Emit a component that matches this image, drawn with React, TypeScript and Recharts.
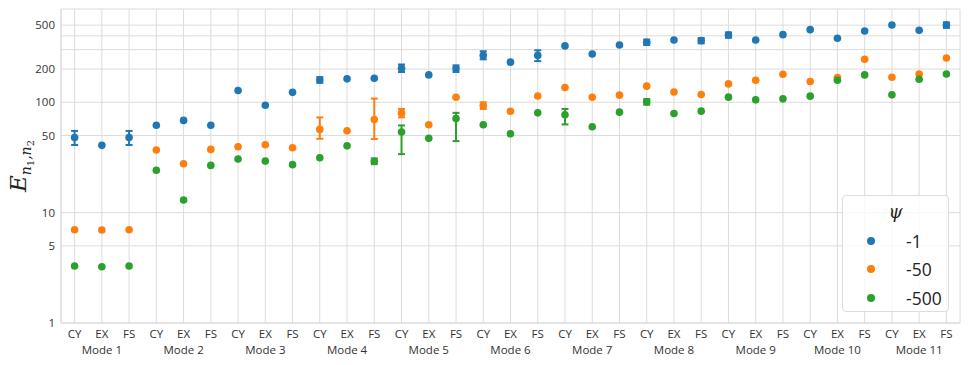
import React from "react";
import { ComposedChart, Scatter, ErrorBar, XAxis, YAxis, CartesianGrid, Legend } from "recharts";

const modes = ["Mode 1", "Mode 2", "Mode 3", "Mode 4", "Mode 5", "Mode 6", "Mode 7", "Mode 8", "Mode 9", "Mode 10", "Mode 11"];
const methods = ["CY", "EX", "FS"];
const psiNames = ["-1", "-50", "-500"];
const colors = ["#1f77b4", "#ff7f0e", "#2ca02c"];

// values per mode: CY, EX, FS
const psi1 = [
  48, 40.7, 48, 62, 68.5, 62, 128, 94, 123, 159, 163, 165, 203, 177, 202, 266, 231, 266,
  324, 274, 330, 350, 367, 362, 407, 367, 410, 455, 380, 442, 501, 449, 501,
];
const psi1Low = [
  41, null, 41, null, null, null, null, null, null, 150, null, null, 188, null, 188, 245, null, 236,
  null, null, null, 330, null, 342, 384, null, null, null, null, null, null, null, 472,
];
const psi1High = [
  55, null, 55, null, null, null, null, null, null, 169, null, null, 220, null, 216, 290, null, 296,
  null, null, null, 370, null, 382, 430, null, null, null, null, null, null, null, 530,
];

const psi50 = [
  7.0, 6.95, 7.0, 36.9, 27.7, 37.4, 39.5, 41.2, 38.7, 56.8, 55.1, 69.9, 79.7, 62.5, 111, 93.5, 83, 114,
  136, 111, 116, 140, 124, 117.6, 146.7, 158.5, 179.5, 154, 167.6, 245, 168.7, 180.6, 252,
];
const psi50Low = [
  null, null, null, null, null, null, null, null, null, 46.7, null, 46.4, 73, null, null, 87, null, null,
  null, null, null, null, null, null, null, null, null, null, null, null, null, null, null,
];
const psi50High = [
  null, null, null, null, null, null, null, null, null, 72.9, null, 108, 87, null, null, 100, null, null,
  null, null, null, null, null, null, null, null, null, null, null, null, null, null, null,
];

const psi500 = [
  3.28, 3.23, 3.28, 24.2, 13.0, 26.8, 30.6, 29.3, 27.2, 31.4, 40.3, 29.2, 53.7, 47.1, 71.3, 62.5, 51.8, 80.2,
  76.9, 60, 81.4, 100.9, 79.2, 83.1, 111.3, 105.2, 107.4, 113.6, 158.5, 177, 116.7, 161.8, 180.6,
];
const psi500Low = [
  null, null, null, null, null, null, null, null, null, null, null, 27.5, 33.9, null, 44.5, null, null, null,
  63, null, null, 95, null, null, null, null, null, null, null, null, null, null, null,
];
const psi500High = [
  null, null, null, null, null, null, null, null, null, null, null, 31, 61.7, null, 80.2, null, null, null,
  87, null, null, 107, null, null, null, null, null, null, null, null, null, null, null,
];

const yTicks = [1, 5, 10, 50, 100, 200, 300, 400, 500];
const yLabelled = [1, 5, 10, 50, 100, 200, 500];

function err(v: number, lo: number | null, hi: number | null) {
  if (lo == null || hi == null) return null;
  return [v - lo, hi - v];
}

const rows = modes.flatMap((m, i) =>
  methods.map((c, j) => {
    const k = i * 3 + j;
    return {
      key: `${m}|${c}`,
      s1: psi1[k],
      e1: err(psi1[k], psi1Low[k], psi1High[k]),
      s50: psi50[k],
      e50: err(psi50[k], psi50Low[k], psi50High[k]),
      s500: psi500[k],
      e500: err(psi500[k], psi500Low[k], psi500High[k]),
    };
  })
);

const TEXT = "#333333";
const GRID = "#dcdcdc";
const FONT = "'Open Sans', sans-serif";

function XTick(props: any) {
  const { x, y, payload } = props;
  const [mode, method] = String(payload.value).split("|");
  return (
    <g transform={`translate(${x},${y})`}>
      <text x={0} y={15} textAnchor="middle" fill={TEXT} fontSize={11.5} fontFamily={FONT}>
        {method}
      </text>
      {method === "EX" && (
        <text x={0} y={31} textAnchor="middle" fill={TEXT} fontSize={11.5} fontFamily={FONT}>
          {mode}
        </text>
      )}
    </g>
  );
}

function YLabel(props: any) {
  const vb = props.viewBox || { y: 9, height: 314 };
  const cy = vb.y + vb.height / 2;
  return (
    <text
      transform={`translate(26,${cy}) rotate(-90)`}
      textAnchor="middle"
      fill="#222"
      fontFamily="'DejaVu Serif', serif"
      fontStyle="italic"
    >
      <tspan fontSize={23}>E</tspan>
      <tspan fontSize={14} dy={5}>n</tspan>
      <tspan fontSize={10} dy={3} fontStyle="normal">1</tspan>
      <tspan fontSize={14} dy={-3}>,n</tspan>
      <tspan fontSize={10} dy={3} fontStyle="normal">2</tspan>
    </text>
  );
}

function PsiLegend() {
  return (
    <div
      style={{
        position: "relative",
        width: 107,
        height: 117,
        boxSizing: "border-box",
        border: "1px solid #dddddd",
        borderRadius: 4,
        background: "rgba(255,255,255,0.8)",
        fontFamily: FONT,
        color: "#222",
      }}
    >
      <div
        style={{
          position: "absolute",
          left: 0,
          width: "100%",
          top: 4,
          textAlign: "center",
          fontFamily: "'DejaVu Serif', serif",
          fontStyle: "italic",
          fontSize: 18,
          lineHeight: "24px",
        }}
      >
        ψ
      </div>
      {psiNames.map((n, i) => (
        <div key={n} style={{ position: "absolute", left: 0, top: 33 + i * 28.3, height: 24, width: "100%" }}>
          <span
            style={{
              position: "absolute",
              left: 24,
              top: 8,
              width: 8,
              height: 8,
              borderRadius: 4,
              background: colors[i],
            }}
          />
          <span style={{ position: "absolute", left: 63, top: 0, fontSize: 17.5, lineHeight: "24px" }}>{n}</span>
        </div>
      ))}
    </div>
  );
}

const dot = (color: string) => (p: any) =>
  p.cx == null || p.cy == null ? <g /> : <circle cx={p.cx} cy={p.cy} r={3.8} fill={color} />;

export default function App() {
  const keys: [string, string][] = [
    ["s1", "e1"],
    ["s50", "e50"],
    ["s500", "e500"],
  ];
  return (
    <div style={{ position: "absolute", left: 0, top: 0, width: 969, height: 365, background: "#fff" }}>
      <ComposedChart width={969} height={365} data={rows} margin={{ top: 9, right: 9, bottom: 0, left: 0 }}>
        <CartesianGrid stroke={GRID} strokeWidth={1} />
        <XAxis
          dataKey="key"
          type="category"
          interval={0}
          height={42}
          padding={{ left: 13.6, right: 13.6 }}
          tickLine={false}
          tickSize={0}
          tickMargin={0}
          axisLine={{ stroke: GRID }}
          tick={<XTick />}
        />
        <XAxis xAxisId="top" dataKey="key" orientation="top" height={0} tick={false} tickLine={false} axisLine={{ stroke: GRID }} />
        <YAxis
          scale="log"
          domain={[1, 700]}
          allowDataOverflow
          ticks={yTicks}
          interval={0}
          width={61}
          tickLine={false}
          tickSize={6}
          tickMargin={0}
          axisLine={{ stroke: GRID }}
          tick={{ fill: TEXT, fontSize: 11.5, fontFamily: FONT }}
          tickFormatter={(v: number) => (yLabelled.includes(v) ? String(v) : "")}
          label={<YLabel />}
        />
        <YAxis yAxisId="right" orientation="right" width={0} tick={false} tickLine={false} axisLine={{ stroke: GRID }} />
        {keys.map(([s, e], i) => (
          <Scatter key={s} dataKey={s} name={psiNames[i]} fill={colors[i]} shape={dot(colors[i])} isAnimationActive={false}>
            <ErrorBar dataKey={e} direction="y" width={3.5} strokeWidth={2} stroke={colors[i]} isAnimationActive={false} />
          </Scatter>
        ))}
        <Legend
          layout="horizontal"
          verticalAlign="middle"
          align="center"
          content={() => <PsiLegend />}
          wrapperStyle={{ left: 842, top: 195, width: 107, height: 117 }}
        />
      </ComposedChart>
    </div>
  );
}
